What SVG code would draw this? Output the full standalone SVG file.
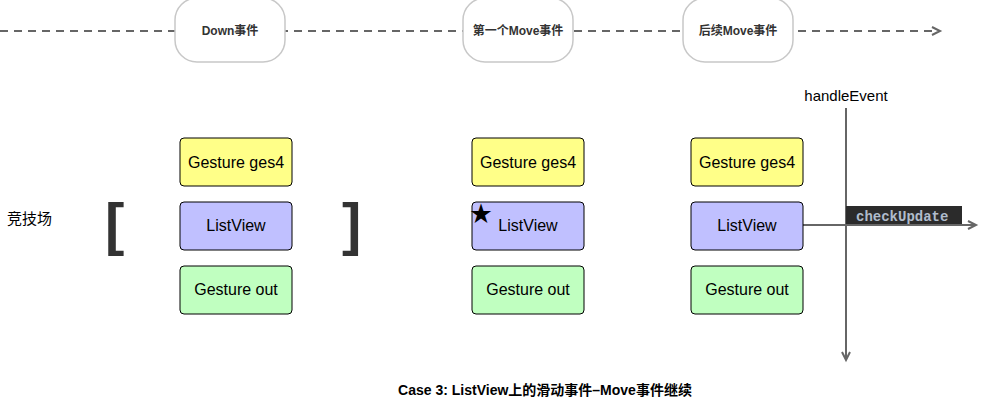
<svg xmlns="http://www.w3.org/2000/svg" width="982" height="407" viewBox="0 0 982 407">
<style>
text{font-family:"Liberation Sans","Noto Sans CJK SC",sans-serif;}
.b{stroke:#000;stroke-width:1}
.y{fill:#ffff88}.p{fill:#c0c0ff}.g{fill:#c0ffc0}
.lbl{font-size:16px;text-anchor:middle;fill:#000}
.pill{fill:#fff;stroke:#c8c8c8;stroke-width:1.5}
.pt{font-size:12px;text-anchor:middle;fill:#333;font-weight:bold}
.ln{stroke:#666;stroke-width:2;fill:none}
.br{font-size:58px;font-weight:bold;fill:#333}
</style>
<defs>
<marker id="a" markerWidth="12" markerHeight="12" refX="9" refY="5" orient="auto" markerUnits="userSpaceOnUse"><path d="M1,1 L9,5 L1,9" fill="none" stroke="#666" stroke-width="2"/></marker>
</defs>
<rect width="982" height="407" fill="#fff"/>
<g id="connectors">
<line class="ln" x1="0" y1="31" x2="940" y2="31" stroke-dasharray="8,6" marker-end="url(#a)"/>
<line class="ln" x1="846" y1="108" x2="846" y2="360" marker-end="url(#a)"/>
<rect x="846" y="206" width="116" height="18" fill="#2b2b2b"/>
<line class="ln" x1="803" y1="225" x2="976" y2="225" marker-end="url(#a)"/>
</g>
<g id="pill1"><rect class="pill" x="175" y="-2" width="110" height="64" rx="22"/><text class="pt" x="230" y="35">Down事件</text></g>
<g id="pill2"><rect class="pill" x="463" y="-2" width="110" height="64" rx="22"/><text class="pt" x="518" y="35">第一个Move事件</text></g>
<g id="pill3"><rect class="pill" x="683" y="-2" width="110" height="64" rx="22"/><text class="pt" x="738" y="35">后续Move事件</text></g>
<g id="c1g"><rect class="b y" x="180" y="138" width="112" height="48" rx="4"/><text class="lbl" x="236" y="168">Gesture ges4</text></g>
<g id="c1l"><rect class="b p" x="180" y="202" width="112" height="48" rx="4"/><text class="lbl" x="236" y="231">ListView</text></g>
<g id="c1o"><rect class="b g" x="180" y="266" width="112" height="48" rx="4"/><text class="lbl" x="236" y="295">Gesture out</text></g>
<g id="c2g"><rect class="b y" x="472" y="138" width="112" height="48" rx="4"/><text class="lbl" x="528" y="168">Gesture ges4</text></g>
<g id="c2l"><rect class="b p" x="472" y="202" width="112" height="48" rx="4"/><text class="lbl" x="528" y="231">ListView</text><text x="470" y="221" font-size="22" font-family="DejaVu Sans,sans-serif">★</text></g>
<g id="c2o"><rect class="b g" x="472" y="266" width="112" height="48" rx="4"/><text class="lbl" x="528" y="295">Gesture out</text></g>
<g id="c3g"><rect class="b y" x="691" y="138" width="112" height="48" rx="4"/><text class="lbl" x="747" y="168">Gesture ges4</text></g>
<g id="c3l"><rect class="b p" x="691" y="202" width="112" height="48" rx="4"/><text class="lbl" x="747" y="231">ListView</text></g>
<g id="c3o"><rect class="b g" x="691" y="266" width="112" height="48" rx="4"/><text class="lbl" x="747" y="295">Gesture out</text></g>
<text x="7" y="224" font-size="15" fill="#000">竞技场</text>
<text class="br" x="105" y="244">[</text>
<text class="br" x="342" y="244">]</text>
<text x="846" y="101" font-size="15" text-anchor="middle" fill="#000">handleEvent</text>
<text x="856" y="221" font-size="14" font-weight="bold" fill="#b0bccc" style="font-family:'Liberation Mono',monospace">checkUpdate</text>
<text x="545" y="395" font-size="14" font-weight="bold" text-anchor="middle" fill="#000">Case 3: ListView上的滑动事件–Move事件继续</text>
</svg>
